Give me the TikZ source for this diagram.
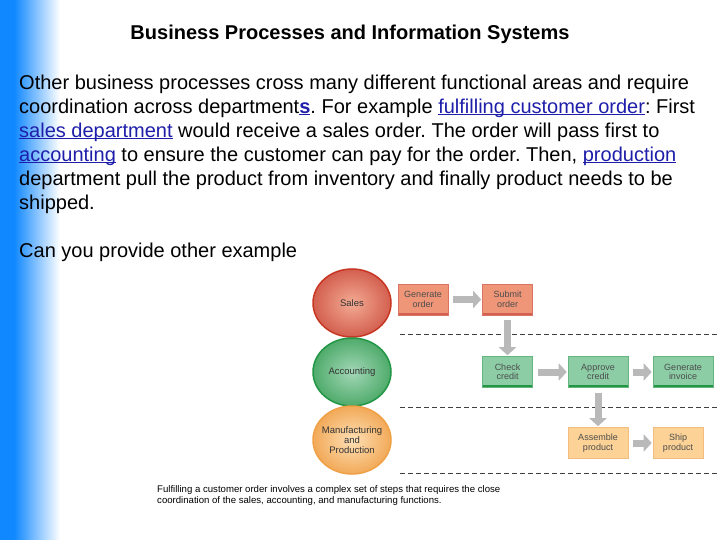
\documentclass[tikz,border=0pt]{standalone}
\usepackage{fontspec}
\setmainfont{Liberation Sans}
\usetikzlibrary{shapes.geometric,arrows.meta}

\definecolor{barblue}{RGB}{16,136,255}
\definecolor{linkblue}{RGB}{30,30,170}
\definecolor{salesfill}{RGB}{240,150,120}
\definecolor{salesdark}{RGB}{200,55,35}
\definecolor{accfill}{RGB}{140,205,165}
\definecolor{accdark}{RGB}{35,150,70}
\definecolor{mfgfill}{RGB}{253,210,150}
\definecolor{mfgdark}{RGB}{240,160,70}

\newcommand{\lnk}[1]{\textcolor{linkblue}{\underline{\smash{#1}}}}
\frenchspacing

\tikzset{
	dept/.style={ellipse, minimum width=78, minimum height=68, inner sep=0pt, align=center,
		font=\fontsize{9.5}{10}\selectfont, text=black!80, line width=1.5pt},
	taskbox/.style={rectangle, minimum width=50, minimum height=31, inner sep=0pt, align=center,
		font=\fontsize{9}{9.5}\selectfont, text=black!70, line width=0.6pt},
	salesbox/.style={taskbox, fill=salesfill, draw=salesdark!70,
		path picture={\fill[salesdark!80] (path picture bounding box.south west) rectangle ([yshift=2pt]path picture bounding box.south east);}},
	accbox/.style={taskbox, fill=accfill, draw=accdark!70,
		path picture={\fill[accdark] (path picture bounding box.south west) rectangle ([yshift=3pt]path picture bounding box.south east);}},
	mfgbox/.style={taskbox, fill=mfgfill, draw=mfgdark!70},
	flow/.style={line width=7pt, draw=gray!55, -{Triangle[length=8pt,width=17pt]}, shorten <=5pt, shorten >=1pt},
	lane/.style={black!75, line width=0.7pt, dash pattern=on 5pt off 3pt}
}

\begin{document}
\begin{tikzpicture}[x=1pt, y=-1pt]
	\useasboundingbox (0,0) rectangle (720,540);
	\fill[white] (0,0) rectangle (720,540);
	% blue bar on the left
	\fill[barblue] (0,0) rectangle (14,540);
	\shade[left color=barblue, right color=white] (14,0) rectangle (60,540);

	% text
	\node (title) at (350,34) {\fontsize{20}{22}\selectfont\bfseries Business Processes and Information Systems};
	\node (body) at (19,74.5) [anchor=north west, inner sep=0pt, align=left, font=\fontsize{20}{24}\selectfont]
		{Other business processes cross many different functional areas and require\\
		coordination across department\lnk{\textbf{s}}. For example \lnk{fulfilling customer order}: First\\
		\lnk{sales department} would receive a sales order. The order will pass first to\\
		\lnk{accounting} to ensure the customer can pay for the order. Then, \lnk{production}\\
		department pull the product from inventory and finally product needs to be\\
		shipped.};
	\node (ask) at (19,257) [anchor=base west, inner sep=0pt, font=\fontsize{20}{24}\selectfont]
		{Can you provide other example};

	% departments
	\node (sales) at (352,303) [dept, draw=salesdark, inner color=salesfill!80!white, outer color=salesdark!80] {Sales};
	\node (acc) at (352,372) [dept, draw=accdark, inner color=accfill!80!white, outer color=accdark!80] {Accounting};
	\node (mfg) at (352,440) [dept, inner xsep=-6pt, draw=mfgdark, inner color=mfgfill!70!white, outer color=mfgdark!90] {Manufacturing\\and\\Production};

	% lanes
	\draw[lane] (400,334) -- (720,334);
	\draw[lane] (400,407) -- (720,407);
	\draw[lane] (400,473) -- (720,473);

	% steps
	\node (genorder) at (423,299.5) [salesbox] {Generate\\order};
	\node (submit) at (507.5,299.5) [salesbox] {Submit\\order};
	\node (check) at (507.5,372) [accbox] {Check\\credit};
	\node (approve) at (598,372) [accbox, minimum width=60] {Approve\\credit};
	\node (invoice) at (683,372) [accbox, minimum width=60] {Generate\\invoice};
	\node (assemble) at (598,443) [mfgbox, minimum width=60] {Assemble\\product};
	\node (ship) at (678,443) [mfgbox] {Ship\\product};

	\draw[flow] (genorder) -- (submit);
	\draw[flow] (submit) -- (check);
	\draw[flow] (check) -- (approve);
	\draw[flow] (approve) -- (invoice);
	\draw[flow] (approve) -- (assemble);
	\draw[flow] (assemble) -- (ship);

	\node (caption) at (157,503) [anchor=base west, inner sep=0pt, align=left, font=\fontsize{9.6}{11}\selectfont]
		{Fulfilling a customer order involves a complex set of steps that requires the close\\
		coordination of the sales, accounting, and manufacturing functions.};
\end{tikzpicture}
\end{document}
